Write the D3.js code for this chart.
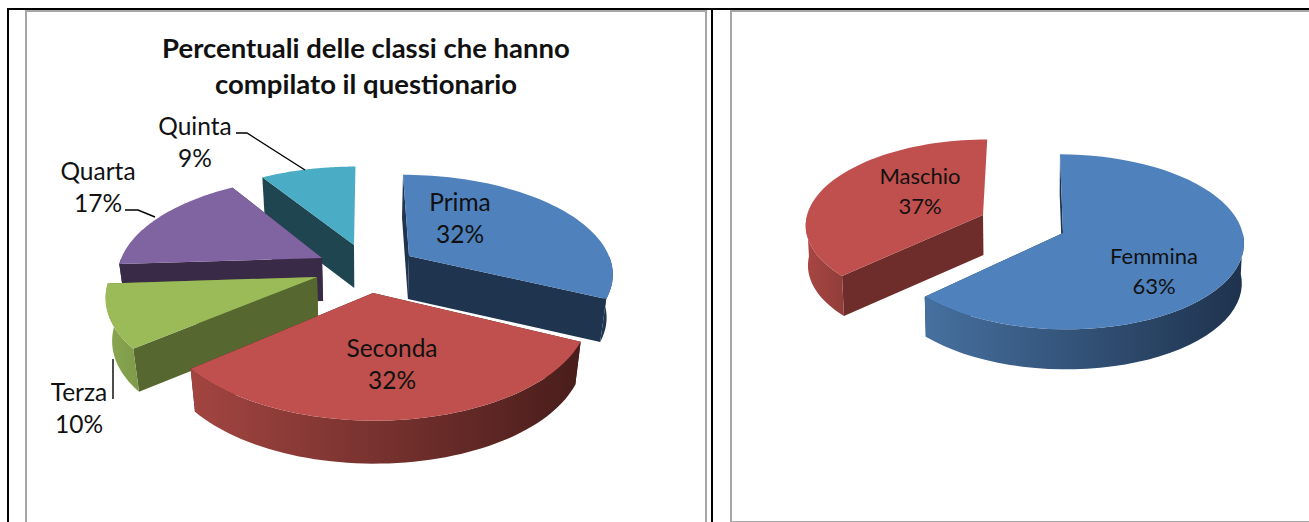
<!DOCTYPE html>
<html><head><meta charset="utf-8">
<script src="https://cdn.jsdelivr.net/npm/d3@7/dist/d3.min.js"></script>
<style>html,body{margin:0;padding:0;background:#fff}svg{display:block}text{font-family:Lato,"Noto Sans",sans-serif;fill:#111}</style>
</head><body><svg id="c" width="1309" height="522"></svg>
<script>
const titleLines = ["Percentuali delle classi che hanno", "compilato il questionario"];
const classLabels = ["Prima", "Seconda", "Terza", "Quarta", "Quinta"];
const classValues = [32, 32, 10, 17, 9];
const genderLabels = ["Femmina", "Maschio"];
const genderValues = [63, 37];

const svg = d3.select("#c");
const defs = svg.append("defs");
const line = d3.line();

function drawPie(cfg) {
  const {values, R, Rk, p, h, shrink, cx, cy, apex, top, wall, outerFrom, outerTo, order, gradX, prefix} = cfg;
  const proj = (U, V) => { const w = 1 / (1 - p * V); return [cx + R * U * w, cy + Rk * V * w]; };
  const unproj = (x, y) => { const yy = y - cy, V = yy / (Rk + p * yy); return [(x - cx) * (1 - p * V) / R, V]; };
  const arcs = d3.pie().sort(null).startAngle(0).endAngle(2 * Math.PI)(values);
  const down = pt => [cx + (pt[0] - cx) * shrink, pt[1] + h];
  const lo = Math.PI * 0.5, hi = Math.PI * 1.5;

  order.forEach(i => {
    const a = arcs[i], [U, V] = unproj(apex[i][0], apex[i][1]);
    const P = t => proj(U + Math.sin(t), V - Math.cos(t));
    const steps = d3.range(0, 61).map(s => a.startAngle + (a.endAngle - a.startAngle) * s / 60);
    const rim = steps.map(P);
    const c = proj(U, V);
    const g = svg.append("g").attr("class", "slice");

    const id = `${prefix}${i}`;
    const grad = defs.append("linearGradient").attr("id", id).attr("gradientUnits", "userSpaceOnUse")
      .attr("x1", gradX[i][0]).attr("x2", gradX[i][1]).attr("y1", 0).attr("y2", 0);
    grad.append("stop").attr("offset", 0).attr("stop-color", outerFrom[i]);
    grad.append("stop").attr("offset", 1).attr("stop-color", outerTo[i]);

    // the wall on the closing edge at the top of the pie faces away from the viewer
    const edges = a.endAngle > 2 * Math.PI - 1e-6 ? [rim[0]] : [rim[0], rim[rim.length - 1]];
    edges.forEach(q => {
      g.append("path").attr("d", line([c, q, down(q), down(c)]) + "Z").attr("fill", wall[i]);
    });
    const vis = steps.filter(t => t >= lo && t <= hi).map(P);
    if (vis.length > 1) {
      g.append("path").attr("d", line(vis.concat(vis.slice().reverse().map(down))) + "Z")
       .attr("fill", `url(#${id})`);
    }
    g.append("path").attr("d", line([c].concat(rim)) + "Z").attr("fill", top[i]);
  });
}

drawPie({
  prefix: "a", values: classValues,
  R: 202, Rk: 96, p: 0.16, h: 43, shrink: 0.975, cx: 365, cy: 262,
  apex: [[409, 256], [373, 293], [317, 277], [322, 258], [354, 245]],
  top: ["#4f81bd", "#c0504d", "#9bbb59", "#8064a2", "#4bacc6"],
  wall: ["#1f344f", "#4a1e1c", "#56682f", "#392b47", "#1f4650"],
  outerFrom: ["#203650", "#a34541", "#8aa850", "#392b47", "#1f4650"],
  outerTo: ["#1f344f", "#481d1b", "#7e9a49", "#392b47", "#1f4650"],
  gradX: [[600, 615], [190, 583], [105, 140], [110, 320], [260, 354]],
  order: [4, 3, 0, 2, 1]
});
drawPie({
  prefix: "b", values: genderValues,
  R: 178, Rk: 85, p: 0.1, h: 40, shrink: 0.99, cx: 1030, cy: 225,
  apex: [[1063, 233], [983, 215]],
  top: ["#4f81bd", "#c0504d"],
  wall: ["#1f344f", "#6e2d2b"],
  outerFrom: ["#46709f", "#a84643"],
  outerTo: ["#1e324d", "#8f3d3a"],
  gradX: [[926, 1244], [807, 845]],
  order: [1, 0]
});

// table and chart frames
const frames = [
  {c: "#a6a6a6", w: 2, pts: [[26, 522], [26, 11], [706, 11], [706, 522]]},
  {c: "#a6a6a6", w: 2, pts: [[731, 522], [731, 11], [1309, 11]]},
  {c: "#a6a6a6", w: 2, pts: [[731, 522], [1309, 522]]},
  {c: "#000", w: 2, pts: [[8, 522], [8, 9], [1309, 9]]},
  {c: "#000", w: 2, pts: [[712, 9], [712, 522]]}
];
svg.selectAll("path.frame").data(frames).join("path").attr("class", "frame")
  .attr("d", d => line(d.pts)).attr("fill", "none").attr("stroke", d => d.c).attr("stroke-width", d => d.w);

// leader lines
const leaders = [
  [[236, 133], [247, 133], [305, 170]],
  [[125, 210], [138, 210], [155, 217]],
  [[113, 359], [113, 399]]
];
svg.selectAll("path.lead").data(leaders).join("path").attr("class", "lead")
  .attr("d", line).attr("fill", "none").attr("stroke", "#000").attr("stroke-width", 1.4);

// text
svg.selectAll("text.title").data(titleLines).join("text").attr("class", "title")
  .attr("x", 366).attr("y", (d, i) => 58 + i * 36).attr("text-anchor", "middle")
  .style("font-weight", 700).style("font-size", "27.5px").text(d => d);

const classPos = [[460, 211], [392, 357], [79, 401], [98, 180], [195, 135]];
const genderPos = [[1154, 264], [920, 184]];
function labelsFor(labels, values, pos, size, gap) {
  labels.forEach((l, i) => {
    const t = svg.append("text").attr("text-anchor", "middle").style("font-size", size + "px");
    t.append("tspan").attr("x", pos[i][0]).attr("y", pos[i][1]).text(l);
    t.append("tspan").attr("x", pos[i][0]).attr("y", pos[i][1] + gap).text(values[i] + "%");
  });
}
labelsFor(classLabels, classValues, classPos, 24.5, 32);
labelsFor(genderLabels, genderValues, genderPos, 22, 30);
</script></body></html>
